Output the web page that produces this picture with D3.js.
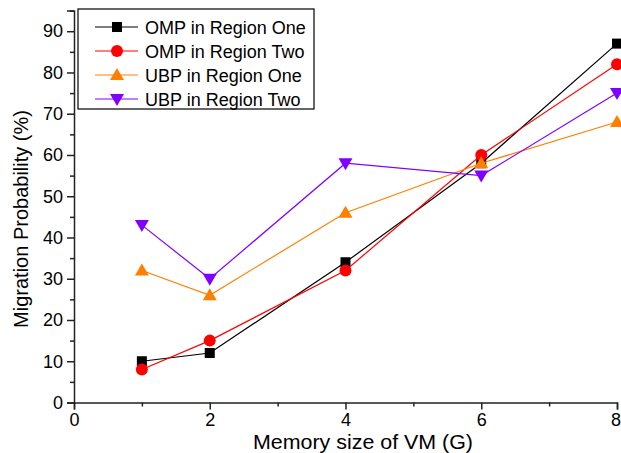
<!DOCTYPE html>
<html>
<head>
<meta charset="utf-8">
<script src="https://cdn.jsdelivr.net/npm/d3@7/dist/d3.min.js"></script>
<style>
  html, body { margin: 0; padding: 0; background: #fff; }
  svg { display: block; font-family: "Liberation Sans", Arial, sans-serif; }
</style>
</head>
<body>
<svg id="chart" width="621" height="453"></svg>
<script>
// Memory size of the VM (G) on the x axis
const memorySizes = [1, 2, 4, 6, 8];

// Migration probability (%) for each strategy / region
const ompRegionOne = [10, 12, 34, 58, 87];
const ompRegionTwo = [8, 15, 32, 60, 82];
const ubpRegionOne = [32, 26, 46, 58, 68];
const ubpRegionTwo = [43, 30, 58, 55, 75];

const seriesNames = ["OMP in Region One", "OMP in Region Two", "UBP in Region One", "UBP in Region Two"];

const xMajorTicks = [0, 2, 4, 6, 8];
const xMinorTicks = [1, 3, 5, 7];
const yMajorTicks = [0, 10, 20, 30, 40, 50, 60, 70, 80, 90];
const yMinorTicks = [5, 15, 25, 35, 45, 55, 65, 75, 85, 95];

const xTitle = "Memory size of VM (G)";
const yTitle = "Migration Probability (%)";

const series = [
  { name: seriesNames[0], values: ompRegionOne, color: "#000000", symbol: "square" },
  { name: seriesNames[1], values: ompRegionTwo, color: "#ff0000", symbol: "circle" },
  { name: seriesNames[2], values: ubpRegionOne, color: "#ff8000", symbol: "triangleUp" },
  { name: seriesNames[3], values: ubpRegionTwo, color: "#8000ff", symbol: "triangleDown" }
];

const svg = d3.select("#chart");
const plotLeft = 74, plotRight = 617, plotTop = 10.6, plotBottom = 402.5;

const x = d3.scaleLinear().domain([0, 8]).range([plotLeft, plotRight]);
const y = d3.scaleLinear().domain([0, 95]).range([plotBottom, plotTop]);

// marker shapes
function drawMarker(g, kind, cx, cy, color) {
  if (kind === "square") {
    g.append("rect").attr("x", cx - 5).attr("y", cy - 5).attr("width", 10).attr("height", 10).attr("fill", color);
  } else if (kind === "circle") {
    g.append("circle").attr("cx", cx).attr("cy", cy).attr("r", 6).attr("fill", color);
  } else if (kind === "triangleUp") {
    g.append("path").attr("d", `M${cx},${cy - 7}L${cx + 7},${cy + 5}L${cx - 7},${cy + 5}Z`).attr("fill", color);
  } else {
    g.append("path").attr("d", `M${cx},${cy + 7}L${cx + 7},${cy - 5}L${cx - 7},${cy - 5}Z`).attr("fill", color);
  }
}

// axes
const axisColor = "#222";
const xAxis = d3.axisBottom(x).tickValues(xMajorTicks).tickSize(7).tickPadding(4).tickFormat(d3.format("d"));
const gx = svg.append("g").attr("transform", `translate(0,${plotBottom})`).call(xAxis);
gx.select(".domain").attr("stroke", axisColor).attr("stroke-width", 1.5);
gx.selectAll(".tick line").attr("stroke", axisColor).attr("stroke-width", 1.5);
gx.selectAll(".tick text").attr("font-size", 18).attr("font-family", "Liberation Sans, Arial, sans-serif").attr("fill", "#000");
// keep the last label inside the canvas edge
gx.selectAll(".tick text").filter(d => d === xMajorTicks[xMajorTicks.length - 1]).attr("dx", -1.5);

const gxMinor = svg.append("g").attr("transform", `translate(0,${plotBottom})`)
  .call(d3.axisBottom(x).tickValues(xMinorTicks).tickSize(4).tickFormat(""));
gxMinor.select(".domain").remove();
gxMinor.selectAll(".tick line").attr("stroke", axisColor).attr("stroke-width", 1.5);

const yAxis = d3.axisLeft(y).tickValues(yMajorTicks).tickSize(7).tickPadding(4).tickFormat(d3.format("d"));
const gy = svg.append("g").attr("transform", `translate(${plotLeft},0)`).call(yAxis);
gy.select(".domain").attr("stroke", axisColor).attr("stroke-width", 1.5);
gy.selectAll(".tick line").attr("stroke", axisColor).attr("stroke-width", 1.5);
gy.selectAll(".tick text").attr("font-size", 18).attr("font-family", "Liberation Sans, Arial, sans-serif").attr("fill", "#000");

const gyMinor = svg.append("g").attr("transform", `translate(${plotLeft},0)`)
  .call(d3.axisLeft(y).tickValues(yMinorTicks).tickSize(4).tickFormat(""));
gyMinor.select(".domain").remove();
gyMinor.selectAll(".tick line").attr("stroke", axisColor).attr("stroke-width", 1.5);

// axis titles
svg.append("text").attr("x", 363).attr("y", 448.5).attr("text-anchor", "middle")
  .attr("font-size", 19.5).attr("textLength", 220).attr("lengthAdjust", "spacingAndGlyphs").text(xTitle);
svg.append("text").attr("transform", "translate(28,219) rotate(-90)").attr("text-anchor", "middle")
  .attr("font-size", 20).text(yTitle);

// lines and markers
const line = d3.line().x((d, i) => x(memorySizes[i])).y(d => y(d));
series.forEach(s => {
  const g = svg.append("g");
  g.append("path").attr("d", line(s.values)).attr("fill", "none").attr("stroke", s.color).attr("stroke-width", 1.2);
  s.values.forEach((v, i) => drawMarker(g, s.symbol, x(memorySizes[i]), y(v), s.color));
});

// legend
const legend = svg.append("g");
legend.append("rect").attr("x", 78).attr("y", 9).attr("width", 236).attr("height", 100)
  .attr("fill", "#fff").attr("stroke", "#000").attr("stroke-width", 1.2);
series.forEach((s, i) => {
  const cy = 27 + i * 24;
  legend.append("line").attr("x1", 95).attr("x2", 138).attr("y1", cy).attr("y2", cy)
    .attr("stroke", s.color).attr("stroke-width", 1.2);
  drawMarker(legend, s.symbol, 117, cy, s.color);
  legend.append("text").attr("x", 145).attr("y", cy + 6.5).attr("font-size", 18).text(s.name);
});
</script>
</body>
</html>
